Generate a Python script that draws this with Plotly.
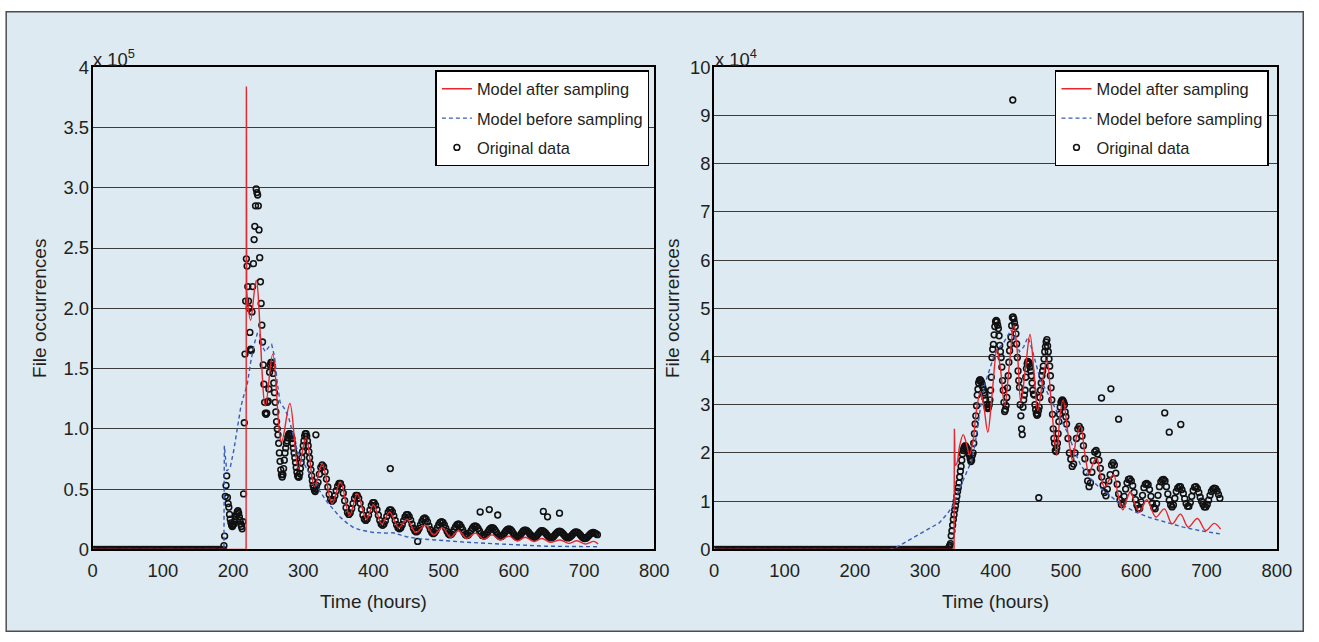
import plotly.graph_objects as go

# ------------------------------------------------------------------
# DATA  (left panel values in units of 1e5, right panel in units of 1e4)
# ------------------------------------------------------------------
# ---- Left panel: original data
left_zero_hours = list(range(0, 186, 3))
left_zero_vals = [0.0] * len(left_zero_hours)

left_peak_start = 186  # hourly values from hour 186
left_peak_vals = [
    0.00, 0.03, 0.11, 0.44, 0.53, 0.61, 0.43, 0.38, 0.35, 0.29,
    0.25, 0.22, 0.20, 0.19, 0.20, 0.21, 0.23, 0.25, 0.27, 0.29,
    0.31, 0.32, 0.30, 0.27, 0.24, 0.21, 0.19, 0.17, 0.23, 0.46,
    1.05, 1.62, 2.06, 2.41, 2.35, 2.18, 2.06, 2.00, 1.80, 1.66,
    1.65, 1.97, 2.18, 2.37, 2.57, 2.68, 2.85, 2.99, 2.96, 2.94,
    2.85, 2.65, 2.42, 2.22, 2.04, 1.86, 1.72, 1.53, 1.37, 1.22,
    1.13, 1.12, 1.13, 1.22, 1.23, 1.33, 1.47, 1.53, 1.55, 1.55,
    1.52, 1.46, 1.38, 1.30, 1.22, 1.14, 1.06, 1.00, 0.95, 0.88,
    0.80, 0.73, 0.66, 0.62, 0.60, 0.62, 0.67, 0.74, 0.80, 0.84,
    0.88, 0.90, 0.93, 0.95, 0.96, 0.96, 0.95, 0.94, 0.92, 0.88,
    0.84, 0.80, 0.76, 0.72, 0.68, 0.64, 0.61, 0.60, 0.60, 0.63,
    0.67, 0.72, 0.76, 0.81, 0.86, 0.90, 0.94, 0.96, 0.96, 0.94,
    0.90, 0.86, 0.81, 0.76, 0.71, 0.66, 0.61, 0.57, 0.53, 0.51,
    0.49, 0.48, 0.50, 0.53,
]

left_tail_start = 321  # 2-hourly values from hour 321
left_tail_vals = [
    0.556, 0.624, 0.679, 0.700, 0.685, 0.644, 0.583, 0.517, 0.456, 0.415,
    0.400, 0.412, 0.444, 0.486, 0.524, 0.547, 0.546, 0.517, 0.466, 0.404,
    0.346, 0.305, 0.290, 0.303, 0.337, 0.381, 0.422, 0.447, 0.447, 0.424,
    0.382, 0.332, 0.285, 0.252, 0.240, 0.252, 0.284, 0.326, 0.364, 0.387,
    0.387, 0.366, 0.329, 0.284, 0.241, 0.211, 0.200, 0.210, 0.238, 0.274,
    0.308, 0.327, 0.328, 0.310, 0.278, 0.240, 0.205, 0.179, 0.170, 0.179,
    0.205, 0.239, 0.269, 0.288, 0.288, 0.272, 0.243, 0.209, 0.176, 0.153,
    0.145, 0.153, 0.174, 0.203, 0.231, 0.252, 0.260, 0.251, 0.228, 0.195,
    0.163, 0.139, 0.130, 0.137, 0.155, 0.180, 0.205, 0.223, 0.230, 0.223,
    0.203, 0.175, 0.148, 0.127, 0.120, 0.126, 0.143, 0.165, 0.188, 0.204,
    0.210, 0.204, 0.186, 0.163, 0.139, 0.121, 0.115, 0.120, 0.135, 0.155,
    0.175, 0.190, 0.195, 0.189, 0.174, 0.153, 0.131, 0.116, 0.110, 0.115,
    0.128, 0.145, 0.163, 0.175, 0.180, 0.175, 0.161, 0.143, 0.124, 0.110,
    0.105, 0.109, 0.121, 0.138, 0.154, 0.166, 0.170, 0.165, 0.153, 0.135,
    0.118, 0.105, 0.100, 0.105, 0.118, 0.134, 0.150, 0.159, 0.159, 0.152,
    0.141, 0.126, 0.113, 0.103, 0.100, 0.104, 0.116, 0.131, 0.145, 0.154,
    0.154, 0.147, 0.136, 0.121, 0.108, 0.098, 0.095, 0.099, 0.109, 0.123,
    0.136, 0.146, 0.150, 0.146, 0.136, 0.123, 0.109, 0.099, 0.095, 0.098,
    0.108, 0.120, 0.133, 0.142, 0.145, 0.141, 0.131, 0.118, 0.104, 0.094,
    0.090, 0.093, 0.103, 0.115, 0.128, 0.137, 0.140, 0.137, 0.130, 0.122,
]

left_out_hours = [318, 424, 463, 552, 565, 577, 642, 648, 665]
left_out_vals = [0.95, 0.67, 0.066, 0.31, 0.33, 0.285, 0.315, 0.27, 0.30]

# ---- Left panel: model after sampling
left_after_spike_t = [0, 218.6, 219.0, 219.4]
left_after_spike_v = [0, 0, 3.84, 2.15]
left_after_t = [219.4, 225, 233, 246, 256.5, 269, 281, 293, 304, 316, 327, 341,
                353, 366, 377, 390, 400, 412, 423, 436, 448, 460, 474, 486, 498,
                510, 521, 533, 545, 557, 569, 581, 593, 605, 616, 629, 640, 652,
                666, 678, 690, 702, 714, 720]
left_after_v = [2.15, 1.90, 2.23, 1.19, 1.62, 0.89, 1.21, 0.67, 0.93, 0.52, 0.71, 0.38,
                0.56, 0.28, 0.46, 0.25, 0.37, 0.21, 0.31, 0.18, 0.25, 0.14, 0.20, 0.12, 0.18,
                0.10, 0.155, 0.09, 0.135, 0.085, 0.12, 0.078, 0.11, 0.07, 0.10, 0.065, 0.09, 0.058,
                0.078, 0.05, 0.072, 0.044, 0.066, 0.045]

# ---- Left panel: model before sampling
left_before_t = [0, 187, 187.6, 191, 196, 201, 206, 211, 215, 220, 225, 230, 235, 238,
                 242, 246, 251, 255, 259, 263, 267, 273, 279, 285, 290, 296, 305, 314,
                 324, 333, 343, 352, 362, 372, 382, 400, 419, 428, 438, 447, 466, 490,
                 504, 530, 551, 575, 599, 623, 646, 680, 720]
left_before_v = [0, 0, 0.86, 0.65, 0.68, 0.82, 1.00, 1.18, 1.27, 1.36, 1.55, 1.70, 1.80, 1.78,
                 1.68, 1.64, 1.68, 1.70, 1.60, 1.38, 1.22, 1.17, 1.10, 0.97, 0.85, 0.76, 0.67, 0.57,
                 0.48, 0.40, 0.33, 0.27, 0.22, 0.18, 0.16, 0.14, 0.135, 0.138, 0.12, 0.105, 0.087, 0.075,
                 0.07, 0.06, 0.053, 0.045, 0.037, 0.03, 0.026, 0.024, 0.022]

# ---- Right panel: original data
right_zero_hours = list(range(0, 333, 3))
right_zero_vals = [0.0] * len(right_zero_hours)

right_peak_start = 333  # hourly values from hour 333
right_peak_vals = [
    0.00, 0.05, 0.08, 0.12, 0.28, 0.38, 0.50, 0.62, 0.72, 0.82,
    0.90, 1.00, 1.10, 1.20, 1.28, 1.38, 1.50, 1.62, 1.72, 1.85,
    1.98, 2.05, 2.10, 2.13, 2.15, 2.12, 2.10, 2.08, 2.05, 2.00,
    1.95, 1.88, 1.82, 1.85, 1.95, 2.00, 2.20, 2.40, 2.60, 2.77,
    2.98, 3.20, 3.32, 3.45, 3.50, 3.52, 3.50, 3.47, 3.42, 3.36,
    3.30, 3.25, 3.20, 3.10, 3.00, 2.95, 2.92, 2.95, 3.00, 3.10,
    3.30, 3.57, 3.98, 4.15, 4.25, 4.45, 4.62, 4.72, 4.75, 4.72,
    4.65, 4.58, 4.43, 4.23, 4.10, 3.98, 3.78, 3.50, 3.30, 3.05,
    2.86, 2.90, 2.98, 3.15, 3.35, 3.60, 3.88, 4.12, 4.25, 4.40,
    4.64, 4.81, 4.82, 4.78, 4.70, 4.62, 4.47, 4.26, 3.98, 3.70,
    3.50, 3.36, 3.00, 2.77, 2.50, 2.38, 2.95, 3.10, 3.20, 3.30,
    3.57, 3.75, 3.85, 3.90, 3.88, 3.85, 3.78, 3.70, 3.60, 3.45,
    3.30, 3.22, 3.20, 3.00, 2.90, 2.82, 2.78, 2.80, 2.88, 2.95,
    3.15, 3.30, 3.45, 3.60, 3.70, 3.80, 3.95, 4.10, 4.20, 4.30,
    4.35, 4.22, 4.10, 3.95, 3.80, 3.60, 3.35, 3.10, 2.80, 2.50,
    2.30, 2.20, 2.05, 2.03, 2.10, 2.20, 2.40, 2.65, 2.80, 2.95,
    3.05, 3.08, 3.10, 3.08, 3.05, 3.00, 2.85, 2.75,
]

right_tail_start = 501  # 2-hourly values from hour 501
right_tail_vals = [
    2.60, 2.30, 2.00, 1.87, 1.72, 1.77, 2.00, 2.30, 2.50, 2.55,
    2.50, 2.35, 2.15, 1.88, 1.60, 1.42, 1.30, 1.38, 1.60, 1.84,
    2.02, 2.05, 1.98, 1.85, 1.68, 1.50, 1.33, 1.18, 1.11, 1.25,
    1.42, 1.55, 1.75, 1.80, 1.75, 1.58, 1.35, 1.15, 1.02, 0.93,
    0.97, 1.10, 1.25, 1.38, 1.45, 1.46, 1.42, 1.32, 1.18, 1.03,
    0.92, 0.85, 0.85, 0.98, 1.12, 1.28, 1.35, 1.37, 1.34, 1.24,
    1.10, 0.96, 0.87, 0.84, 0.95, 1.12, 1.30, 1.40, 1.44, 1.45,
    1.42, 1.30, 1.15, 1.02, 0.92, 0.88, 0.92, 1.06, 1.20, 1.27,
    1.30, 1.30, 1.24, 1.16, 1.05, 0.95, 0.89, 0.89, 0.97, 1.10,
    1.22, 1.29, 1.30, 1.26, 1.18, 1.08, 1.00, 0.93, 0.88, 0.88,
    0.93, 1.02, 1.12, 1.20, 1.25, 1.27, 1.26, 1.21, 1.14, 1.06,
]

right_out_hours = [424.5, 461.5, 550.7, 564, 575, 640.6, 647, 663.4]
right_out_vals = [9.32, 1.07, 3.14, 3.33, 2.70, 2.83, 2.43, 2.59]

# ---- Right panel: model after sampling
right_after_spike_t = [0, 341, 341.5, 342.5]
right_after_spike_v = [0, 0, 2.50, 1.74]
right_after_t = [342.5, 345, 349, 354, 358.5, 363, 368, 373, 378.5, 383.5, 389, 395,
                 402, 407, 413, 419.5, 426, 431, 436, 442.5, 449, 454.5, 460, 467,
                 473, 480, 487, 491.5, 496, 503, 509.5, 515, 521, 527, 533, 539,
                 544, 549, 555, 562, 568, 574, 581, 587, 592, 598, 605, 615, 628,
                 640, 651, 663, 674, 687, 699, 711, 720]
right_after_v = [1.74, 1.78, 2.15, 2.38, 2.20, 1.96, 2.25, 2.90, 3.27, 2.95, 2.43, 3.20,
                 4.15, 3.75, 2.98, 3.80, 4.65, 4.10, 3.05, 3.75, 4.46, 3.70, 2.88, 3.50,
                 3.92, 2.90, 1.95, 2.75, 3.10, 2.40, 1.84, 2.32, 2.55, 1.98, 1.56, 1.80,
                 1.90, 1.55, 1.29, 1.45, 1.55, 1.15, 0.82, 1.05, 1.20, 0.95, 0.77, 1.03, 0.67,
                 0.84, 0.53, 0.73, 0.46, 0.64, 0.39, 0.54, 0.42]

# ---- Right panel: model before sampling
right_before_t = [0, 250, 260, 280, 300, 320, 332, 340, 350, 359, 366, 371, 375.5, 380,
                  385, 392, 397, 402, 410, 416, 422, 428, 434, 440, 446, 452, 458, 464,
                  472, 482, 492, 503, 512, 521, 533, 545, 560, 577, 600, 619, 643, 667,
                  690, 720]
right_before_v = [0, 0, 0.05, 0.22, 0.38, 0.55, 0.75, 0.92, 1.30, 1.60, 1.84, 2.19, 2.60, 3.08,
                  3.43, 3.78, 3.98, 4.15, 4.25, 4.40, 4.55, 4.35, 4.10, 4.20, 4.40, 4.15, 3.80, 3.50,
                  3.30, 3.00, 2.72, 2.40, 2.05, 1.75, 1.50, 1.32, 1.15, 0.94, 0.77, 0.66, 0.56, 0.46,
                  0.39, 0.32]

# Axis ticks
x_ticks = [0, 100, 200, 300, 400, 500, 600, 700, 800]
left_y_ticks = [0, 0.5, 1.0, 1.5, 2.0, 2.5, 3.0, 3.5, 4.0]
left_y_text = ["0", "0.5", "1.0", "1.5", "2.0", "2.5", "3.0", "3.5", "4"]
right_y_ticks = [0, 1, 2, 3, 4, 5, 6, 7, 8, 9, 10]
right_y_text = [str(v) for v in right_y_ticks]

NAME_AFTER = "Model after sampling"
NAME_BEFORE = "Model before sampling"
NAME_DATA = "Original data"

# ------------------------------------------------------------------
# STYLE / LAYOUT
# Positions are given in target-picture pixels and converted to page
# pixels with a calibration measured from earlier photographs.
# ------------------------------------------------------------------
W, H = 1319, 642
SX, BX = 0.9855, 4.3
SY, BY = 0.967, 10.5
FONT = "Liberation Sans, Arial, Helvetica, sans-serif"
TXT = "#231f20"
BG = "#ddeaf1"
RED = "#e8262d"
BLUE = "#3a5cb8"
GRID = "#3c3c3c"


def page_x(p):
    return min(max((p - BX) / SX, 0.75), W - 0.75)


def page_y(p):
    return min(max((p - BY) / SY, 0.75), H - 0.75)


def px_x(p):
    return page_x(p) / W


def px_y(p):
    return 1 - page_y(p) / H


def build(hz, vz, start_peak, vpeak, start_tail, step_tail, vtail, ho, vo):
    hp = [start_peak + i for i in range(len(vpeak))]
    ht = [start_tail + step_tail * i for i in range(len(vtail))]
    return hz + hp + ht + ho, vz + vpeak + vtail + vo


fig = go.Figure()

panels = [
    dict(xa="x", ya="y", leg="legend",
         data=build(left_zero_hours, left_zero_vals, left_peak_start, left_peak_vals,
                    left_tail_start, 2, left_tail_vals, left_out_hours, left_out_vals),
         spike=(left_after_spike_t, left_after_spike_v),
         after=(left_after_t, left_after_v),
         before=(left_before_t, left_before_v)),
    dict(xa="x2", ya="y2", leg="legend2",
         data=build(right_zero_hours, right_zero_vals, right_peak_start, right_peak_vals,
                    right_tail_start, 2, right_tail_vals, right_out_hours, right_out_vals),
         spike=(right_after_spike_t, right_after_spike_v),
         after=(right_after_t, right_after_v),
         before=(right_before_t, right_before_v)),
]

for p in panels:
    hx, vy = p["data"]
    fig.add_trace(go.Scatter(
        x=hx, y=vy, mode="markers", name=NAME_DATA, legend=p["leg"],
        legendgroup=p["leg"] + "c", legendrank=3,
        marker=dict(symbol="circle-open", size=5.8, color="#111111",
                    line=dict(width=1.55, color="#111111")),
        xaxis=p["xa"], yaxis=p["ya"]))
    fig.add_trace(go.Scatter(
        x=p["before"][0], y=p["before"][1], mode="lines", name=NAME_BEFORE,
        legend=p["leg"], legendgroup=p["leg"] + "b", legendrank=2,
        line=dict(color=BLUE, width=1.4, dash="4px,3px"),
        xaxis=p["xa"], yaxis=p["ya"]))
    fig.add_trace(go.Scatter(
        x=p["spike"][0], y=p["spike"][1], mode="lines", name=NAME_AFTER,
        legend=p["leg"], legendgroup=p["leg"] + "a", showlegend=False,
        line=dict(color=RED, width=1.4),
        xaxis=p["xa"], yaxis=p["ya"]))
    fig.add_trace(go.Scatter(
        x=p["after"][0], y=p["after"][1], mode="lines", name=NAME_AFTER,
        legend=p["leg"], legendgroup=p["leg"] + "a", legendrank=1,
        line=dict(color=RED, width=1.4, shape="spline", smoothing=1.0),
        xaxis=p["xa"], yaxis=p["ya"]))

x_dom_l = [px_x(92), px_x(654)]
x_dom_r = [px_x(714), px_x(1277)]
y_dom = [px_y(548.7), px_y(66.7)]

common_x = dict(range=[0, 800], tickvals=x_ticks, ticktext=[str(t) for t in x_ticks],
                showgrid=False, zeroline=False, showline=True, linecolor="black",
                linewidth=2, mirror=True, ticks="", ticklabelstandoff=4,
                tickfont=dict(family=FONT, size=18.4, color=TXT),
                title=dict(text="Time (hours)", font=dict(family=FONT, size=19, color=TXT),
                           standoff=14))


def common_y(standoff):
    return dict(showgrid=True, gridcolor=GRID, gridwidth=1.4, zeroline=False,
                showline=True, linecolor="black", linewidth=2, mirror=True, ticks="",
                ticklabelstandoff=-2,
                tickfont=dict(family=FONT, size=18.4, color=TXT),
                title=dict(text="File occurrences", font=dict(family=FONT, size=19, color=TXT),
                           standoff=standoff))


legend_common = dict(xanchor="left", yanchor="top", bgcolor="white", bordercolor="black",
                     borderwidth=1.5, font=dict(family=FONT, size=16.4, color=TXT),
                     tracegroupgap=5, traceorder="grouped")

fig.update_layout(
    width=W, height=H, autosize=False, margin=dict(l=0, r=0, t=0, b=0),
    paper_bgcolor="white", plot_bgcolor="white", showlegend=True,
    font=dict(family=FONT, color=TXT),
    xaxis=dict(domain=x_dom_l, anchor="y", **common_x),
    yaxis=dict(domain=y_dom, anchor="x", range=[0, 4], tickvals=left_y_ticks,
               ticktext=left_y_text, **common_y(12)),
    xaxis2=dict(domain=x_dom_r, anchor="y2", **common_x),
    yaxis2=dict(domain=y_dom, anchor="x2", range=[0, 10], tickvals=right_y_ticks,
                ticktext=right_y_text, **common_y(5)),
    legend=dict(x=px_x(435), y=px_y(69.6), **legend_common),
    legend2=dict(x=px_x(1055), y=px_y(69.6), **legend_common),
    shapes=[dict(type="rect", xref="paper", yref="paper",
                 x0=px_x(5.5), x1=px_x(1313), y0=px_y(636), y1=px_y(5.5),
                 line=dict(color="#4d4d4d", width=1.5), fillcolor=BG,
                 layer="below")],
    annotations=[
        dict(text="x 10<sup>5</sup>", xref="paper", yref="paper", x=px_x(90.5), y=px_y(71.1),
             xanchor="left", yanchor="bottom", showarrow=False,
             font=dict(family=FONT, size=18.4, color=TXT)),
        dict(text="x 10<sup>4</sup>", xref="paper", yref="paper", x=px_x(712.5), y=px_y(71.1),
             xanchor="left", yanchor="bottom", showarrow=False,
             font=dict(family=FONT, size=18.4, color=TXT)),
    ],
)

fig.write_html(
    "out.html",
    config={"displayModeBar": False, "responsive": False},
    post_script=("document.documentElement.style.margin='0';"
                 "document.body.style.margin='0';"
                 "document.body.style.overflow='hidden';"
                 "var gd=document.getElementById('{plot_id}');"
                 "gd.style.position='fixed';gd.style.left='0px';gd.style.top='0px';"),
)
